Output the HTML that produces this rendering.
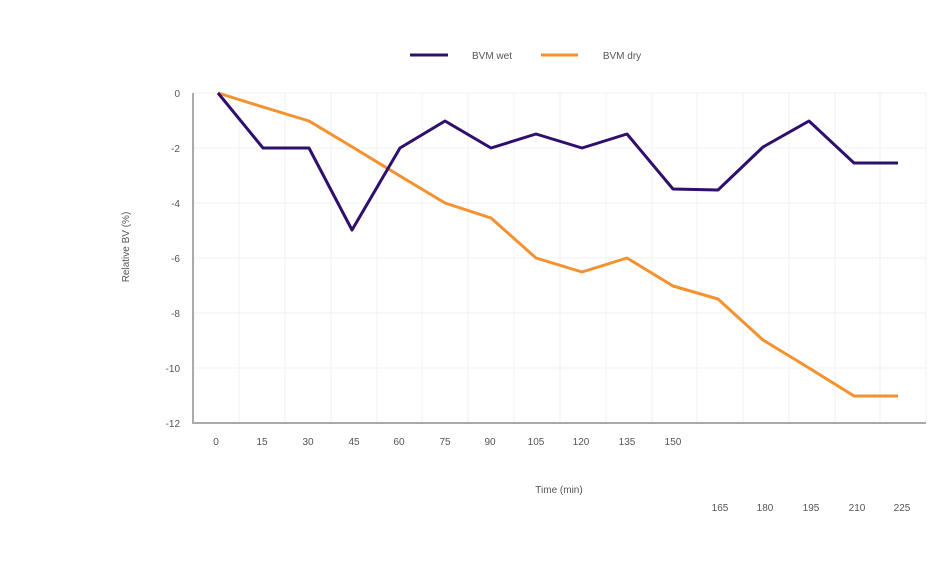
<!DOCTYPE html>
<html><head><meta charset="utf-8"><style>
body{margin:0;background:#fff;}
svg{display:block;font-family:"Liberation Sans",sans-serif;}
</style></head><body>
<svg width="940" height="563" viewBox="0 0 940 563">
<g stroke="#f0f0f0" stroke-width="1">
<line x1="193" y1="148" x2="926" y2="148"/><line x1="193" y1="203" x2="926" y2="203"/>
<line x1="193" y1="258" x2="926" y2="258"/><line x1="193" y1="313" x2="926" y2="313"/>
<line x1="193" y1="368" x2="926" y2="368"/><line x1="193" y1="93" x2="926" y2="93"/>
<line x1="239" y1="93" x2="239" y2="423"/><line x1="285" y1="93" x2="285" y2="423"/>
<line x1="331" y1="93" x2="331" y2="423"/><line x1="377" y1="93" x2="377" y2="423"/>
<line x1="422" y1="93" x2="422" y2="423"/><line x1="468" y1="93" x2="468" y2="423"/>
<line x1="514" y1="93" x2="514" y2="423"/><line x1="560" y1="93" x2="560" y2="423"/>
<line x1="606" y1="93" x2="606" y2="423"/><line x1="652" y1="93" x2="652" y2="423"/>
<line x1="697" y1="93" x2="697" y2="423"/><line x1="743" y1="93" x2="743" y2="423"/>
<line x1="789" y1="93" x2="789" y2="423"/><line x1="835" y1="93" x2="835" y2="423"/>
<line x1="880" y1="93" x2="880" y2="423"/><line x1="926" y1="93" x2="926" y2="423"/>
</g>
<path d="M193 93V423H926" fill="none" stroke="#aaa" stroke-width="2"/>
<g font-size="10" fill="#555" text-anchor="end">
<text x="180" y="97">0</text><text x="180" y="152">-2</text><text x="180" y="207">-4</text>
<text x="180" y="262">-6</text><text x="180" y="317">-8</text><text x="180" y="372">-10</text><text x="180" y="427">-12</text>
</g>
<g font-size="10" fill="#555" text-anchor="middle">
<text x="216" y="445">0</text><text x="262" y="445">15</text><text x="308" y="445">30</text>
<text x="354" y="445">45</text><text x="399" y="445">60</text><text x="445" y="445">75</text>
<text x="490" y="445">90</text><text x="536" y="445">105</text><text x="581" y="445">120</text>
<text x="627" y="445">135</text><text x="673" y="445">150</text>
<text x="720" y="511">165</text><text x="765" y="511">180</text><text x="811" y="511">195</text>
<text x="857" y="511">210</text><text x="902" y="511">225</text>
<text x="559" y="493">Time (min)</text>
<text x="129" y="247" transform="rotate(-90 129 247)">Relative BV (%)</text>
<text x="492" y="59">BVM wet</text><text x="622" y="59">BVM dry</text>
</g>
<line x1="410" y1="55" x2="448" y2="55" stroke="#2e0f6e" stroke-width="3"/>
<line x1="541" y1="55" x2="578" y2="55" stroke="#f5912e" stroke-width="3"/>
<polyline fill="none" stroke="#f5912e" stroke-width="3" stroke-linejoin="round" points="218,93 263,107 309,121 354,148 400,176 445,203 491,218 536,258 582,272 627,258 673,286 718,299 763,340 809,368 854,396 898,396"/>
<polyline fill="none" stroke="#2e0f6e" stroke-width="3" stroke-linejoin="round" points="218,93 263,148 309,148 352,230 400,148 445,121 491,148 536,134 582,148 627,134 673,189 718,190 763,147 809,121 854,163 898,163"/>
</svg>
</body></html>
